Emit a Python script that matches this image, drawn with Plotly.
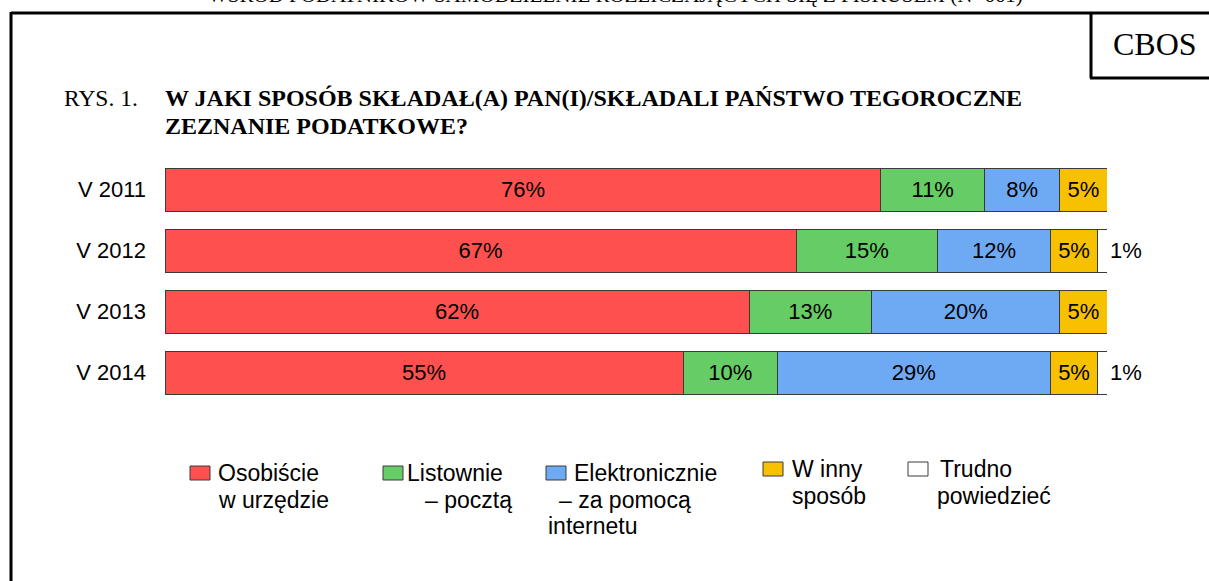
import plotly.graph_objects as go

# ---- data ----
years = ["V 2011", "V 2012", "V 2013", "V 2014"]
series_names = ["Osobiście", "Listownie", "Elektronicznie", "W inny", "Trudno"]
legend_lines = [
    ["Osobiście", "w urzędzie"],
    ["Listownie", "– pocztą"],
    ["Elektronicznie", "– za pomocą", "internetu"],
    ["W inny", "sposób"],
    ["Trudno", "powiedzieć"],
]
osobiscie = [76, 67, 62, 55]
listownie = [11, 15, 13, 10]
elektronicznie = [8, 12, 20, 29]
w_inny = [5, 5, 5, 5]
trudno = [0, 1, 0, 1]
values = [osobiscie, listownie, elektronicznie, w_inny, trudno]
colors = ["#FF5050", "#66CC66", "#6EA9F4", "#F8C100", "#FFFFFF"]

W, H = 1209, 581
L, R, T, B = 165, 102, 159, 178
PW, PH = W - L - R, H - T - B


def px(x):
    return (x - L) / PW


def py(y):
    return (H - B - y) / PH


fig = go.Figure()
for i, (name, vals) in enumerate(zip(series_names, values)):
    last = i == len(values) - 1
    fig.add_trace(go.Bar(
        y=years, x=vals, name=name, orientation="h",
        marker=dict(color=colors[i], line=dict(color="#3a3a3a", width=1)),
        text=[(f"{v}%" if v > 0 else "") for v in vals],
        texttemplate="%{text}",
        textposition="outside" if last else "inside",
        insidetextanchor="middle",
        textangle=0,
        textfont=dict(family="Arial, Liberation Sans", size=22, color="black"),
        cliponaxis=False,
        showlegend=False,
        hoverinfo="skip",
    ))

fig.update_layout(
    barmode="stack",
    width=W, height=H,
    margin=dict(l=L, r=R, t=T, b=B),
    paper_bgcolor="white", plot_bgcolor="white",
    bargap=0.295,
    showlegend=False,
    xaxis=dict(range=[0, 100], visible=False),
    yaxis=dict(autorange="reversed", showgrid=False, zeroline=False, showline=False,
               ticks="", ticklabelstandoff=18,
               tickfont=dict(family="Arial, Liberation Sans", size=22, color="black")),
)

serif = "Liberation Serif, Times New Roman, serif"
sans = "Arial, Liberation Sans"
ann = []
# cut-off heading at very top (partly outside the page in the reference too)
ann.append(dict(text="WŚRÓD PODATNIKÓW SAMODZIELNIE ROZLICZAJĄCYCH SIĘ Z FISKUSEM (N=661)",
                x=px(615), y=py(-5), xref="paper", yref="paper", showarrow=False,
                xanchor="center", yanchor="middle", font=dict(family=serif, size=21, color="black")))
ann.append(dict(text="CBOS", x=px(1155), y=py(44), xref="paper", yref="paper", showarrow=False,
                xanchor="center", yanchor="middle", font=dict(family=serif, size=32, color="black")))
ann.append(dict(text="RYS. 1.", x=px(62), y=py(98), xref="paper", yref="paper", showarrow=False,
                xanchor="left", yanchor="middle", font=dict(family=serif, size=23.5, color="black")))
ann.append(dict(text="<b>W JAKI SPOSÓB SKŁADAŁ(A) PAN(I)/SKŁADALI PAŃSTWO TEGOROCZNE</b>",
                x=px(163), y=py(98), xref="paper", yref="paper", showarrow=False,
                xanchor="left", yanchor="middle", font=dict(family=serif, size=24, color="black")))
ann.append(dict(text="<b>ZEZNANIE PODATKOWE?</b>",
                x=px(163), y=py(126), xref="paper", yref="paper", showarrow=False,
                xanchor="left", yanchor="middle", font=dict(family=serif, size=24, color="black")))

shapes = []
lw = 3
shapes.append(dict(type="line", xref="paper", yref="paper", x0=px(11), x1=px(1220), y0=py(13), y1=py(13),
                   line=dict(color="black", width=lw)))
shapes.append(dict(type="line", xref="paper", yref="paper", x0=px(11), x1=px(11), y0=py(12), y1=py(600),
                   line=dict(color="black", width=lw)))
shapes.append(dict(type="line", xref="paper", yref="paper", x0=px(1091), x1=px(1091), y0=py(13), y1=py(78),
                   line=dict(color="black", width=lw)))
shapes.append(dict(type="line", xref="paper", yref="paper", x0=px(1090), x1=px(1220), y0=py(78), y1=py(78),
                   line=dict(color="black", width=lw)))

# legend (custom)
sw_x = [190, 383, 546, 763, 908]
sw_y = [466, 466, 466, 462, 462]
line_x = [
    [216, 216],
    [405, 423],
    [572, 557, 546],
    [790, 790],
    [938, 935],
]
for i in range(5):
    shapes.append(dict(type="rect", xref="paper", yref="paper",
                       x0=px(sw_x[i]), x1=px(sw_x[i] + 20), y0=py(sw_y[i]), y1=py(sw_y[i] + 14),
                       fillcolor=colors[i], line=dict(color="#3a3a3a", width=1)))
    base = sw_y[i] + 7
    for j, t in enumerate(legend_lines[i]):
        ann.append(dict(text=t, x=px(line_x[i][j]), y=py(base + j * 26.5), xref="paper", yref="paper",
                        showarrow=False, xanchor="left", yanchor="middle",
                        font=dict(family=sans, size=23, color="black")))

fig.update_layout(annotations=ann, shapes=shapes)
fig.write_html("out.html",
               config={"displayModeBar": False},
               post_script="document.body.style.margin='0';document.body.style.overflow='hidden';")
